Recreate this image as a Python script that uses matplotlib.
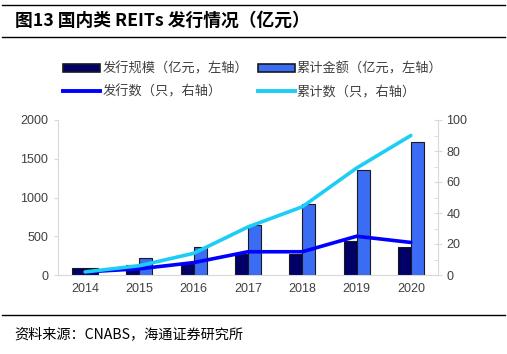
import matplotlib.pyplot as plt
import numpy as np
from matplotlib.patches import Patch
from matplotlib.lines import Line2D
from matplotlib.ticker import MultipleLocator

plt.rcParams['font.family'] = ['Liberation Sans', 'Noto Sans CJK SC', 'DejaVu Sans']

years = ['2014', '2015', '2016', '2017', '2018', '2019', '2020']
issue_amount = [95, 129, 142, 271, 271, 439, 361]      # 发行规模（亿元）
cum_amount = [95, 224, 357, 641, 916, 1359, 1720]      # 累计金额（亿元）
issue_count = [2, 4, 8, 15, 15, 25, 21]                # 发行数（只）
cum_count = [2, 6, 14, 31, 44, 69, 90]                 # 累计数（只）

navy = '#000066'
blue_bar = '#3a6cf4'
gray_txt = '#404040'
spine_c = '#d9d9d9'

fig = plt.figure(figsize=(5.07, 3.54), dpi=100)
ax = fig.add_axes([58/507, 1-275/354, 380/507, 155/354])
ax2 = ax.twinx()

x = np.arange(len(years))
w = 0.24
# the 2014 cumulative bar is drawn in navy in the original
cum_colors = [navy] + [blue_bar]*(len(years)-1)
ax.bar(x - w/2, issue_amount, w, color=navy, edgecolor='#1a1a1a', linewidth=0.8, zorder=2)
ax.bar(x + w/2, cum_amount, w, color=cum_colors, edgecolor='#1a1a1a', linewidth=0.8, zorder=2)

ax2.plot(x, issue_count, color='#0000ff', lw=2.6, solid_capstyle='round')
ax2.plot(x, cum_count, color='#1ccdf5', lw=2.6, solid_capstyle='round')

ax.set_xlim(-0.5, 6.5)
ax.set_ylim(0, 2000)
ax.set_yticks([0, 500, 1000, 1500, 2000])
ax2.set_ylim(0, 100)
ax2.set_yticks([0, 20, 40, 60, 80, 100])
ax2.yaxis.set_minor_locator(MultipleLocator(10))
ax.set_xticks(x)
ax.set_xticklabels(years)

for a in (ax, ax2):
    for s in a.spines.values():
        s.set_color(spine_c)
    a.spines['top'].set_visible(False)
ax.spines['right'].set_visible(False)
ax2.spines['left'].set_visible(False)
ax2.spines['bottom'].set_visible(False)

ax.tick_params(axis='x', length=0, pad=6, labelsize=9, labelcolor=gray_txt)
ax.tick_params(axis='y', length=3, color=spine_c, pad=4, labelsize=9, labelcolor=gray_txt)
ax2.tick_params(axis='y', which='major', direction='inout', length=6, color=spine_c,
                pad=3, labelsize=9, labelcolor=gray_txt)
ax2.tick_params(axis='y', which='minor', direction='in', length=3, color=spine_c)

handles = [Patch(facecolor=navy, edgecolor='#1a1a1a', linewidth=1.2),
           Line2D([], [], color='#0000ff', lw=2.8),
           Patch(facecolor=blue_bar, edgecolor='#1a1a1a', linewidth=1.2),
           Line2D([], [], color='#1ccdf5', lw=2.8)]
labels = ['发行规模（亿元，左轴）', '发行数（只，右轴）',
          '累计金额（亿元，左轴）', '累计数（只，右轴）']
fig.legend(handles, labels, ncol=2, loc='upper left', bbox_to_anchor=(54/507, 1-53/354),
           frameon=False, prop={'family': ['Noto Sans CJK SC'], 'size': 9.5},
           labelcolor=gray_txt, handlelength=2.8, handleheight=0.55, handletextpad=0.15,
           columnspacing=0.75, labelspacing=0.75, borderpad=0.2)

# title, rules and source
fig.text(15/507, 1-21/354, '图13 国内类 REITs 发行情况（亿元）', fontsize=12.8,
         fontweight='bold', va='center', ha='left',
         family=['Noto Sans CJK SC', 'DejaVu Sans'])
for yy in (4.5, 37, 315):
    fig.add_artist(Line2D([2/507, 505/507], [1-yy/354, 1-yy/354], color='black', lw=1))
fig.text(14/507, 1-334/354, '资料来源：CNABS，海通证券研究所', fontsize=10.2, va='center',
         ha='left', family=['Noto Sans CJK SC', 'DejaVu Sans'])

fig.savefig('out.png', dpi=100)
